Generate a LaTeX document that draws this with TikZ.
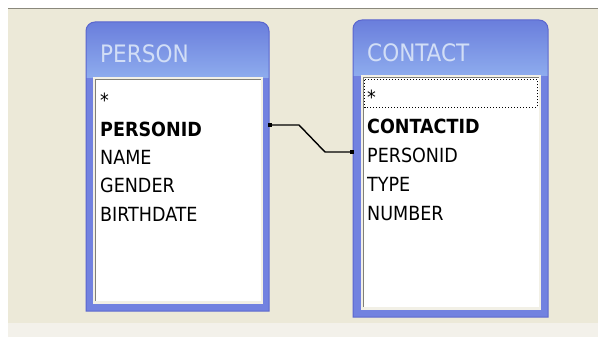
\documentclass[tikz,border=0pt]{standalone}
\usepackage{fontspec}
\setmainfont{DejaVu Sans Condensed}
\definecolor{bg}{HTML}{ECE9D8}
\definecolor{bgl}{HTML}{F3F1EA}
\definecolor{topline}{HTML}{8A887C}
\definecolor{frame}{HTML}{7282E0}
\definecolor{framedark}{HTML}{5A66CE}
\definecolor{titletop}{HTML}{6A7EDC}
\definecolor{titlebot}{HTML}{8EACEE}
\definecolor{titletext}{HTML}{D2DEF6}
\definecolor{sunk}{HTML}{808078}
\definecolor{lite}{HTML}{F2F0E6}
\tikzset{
  tabtitle/.style={anchor=base west, inner sep=0pt, text=titletext, font=\fontsize{24}{28}\selectfont},
  field/.style={anchor=base west, inner sep=0pt, text=black, font=\fontsize{19.5}{23}\selectfont},
  keyfield/.style={field, font=\fontsize{19.5}{23}\selectfont\bfseries},
  endsq/.style={fill=black, inner sep=0pt, minimum size=4pt},
  link/.style={draw=black, line width=1.4pt}
}
\begin{document}
\begin{tikzpicture}[x=1pt,y=-1pt]
\useasboundingbox (0,0) rectangle (598,337);
% background
\fill[white] (0,0) rectangle (598,337);
\fill[bg] (8,8) rectangle (598,323);
\fill[bgl] (8,323) rectangle (598,337);
\draw[topline, line width=1.5pt] (8,8.5) -- (598,8.5);
% PERSON table frame
\begin{scope}
\path[clip] (86,311) [rounded corners=9pt] -- (86,22) -- (269,22) [sharp corners] -- (269,311) -- cycle;
\fill[frame] (86,22) rectangle (269,311);
\shade[top color=titletop, bottom color=titlebot] (86,22) rectangle (269,78);
\end{scope}
\draw[framedark, line width=1pt] (86,311) [rounded corners=9pt] -- (86,22) -- (269,22) [sharp corners] -- (269,311) -- cycle;
\fill[lite] (93,77) rectangle (263,304);
\fill[white] (95,79) rectangle (261,301);
\draw[sunk, line width=1.5pt] (95.5,301) -- (95.5,79.5) -- (261,79.5);
% CONTACT table frame
\begin{scope}
\path[clip] (353,317) [rounded corners=9pt] -- (353,20) -- (548,20) [sharp corners] -- (548,317) -- cycle;
\fill[frame] (353,20) rectangle (548,317);
\shade[top color=titletop, bottom color=titlebot] (353,20) rectangle (548,76);
\end{scope}
\draw[framedark, line width=1pt] (353,317) [rounded corners=9pt] -- (353,20) -- (548,20) [sharp corners] -- (548,317) -- cycle;
\fill[lite] (361,75) rectangle (541,310);
\fill[white] (363,77) rectangle (539,307);
\draw[sunk, line width=1.5pt] (363.5,307) -- (363.5,77.5) -- (539,77.5);
\draw[black, dotted, line width=1pt] (364.5,80) rectangle (537,107.5);
% titles
\node[tabtitle] (tperson) at (100,63) {PERSON};
\node[tabtitle] (tcontact) at (367,62) {CONTACT};
% PERSON fields
\node[field] (pstar) at (100,107) {*};
\node[keyfield] (ppid) at (100,136) {PERSONID};
\node[field] (pname) at (100,164.5) {NAME};
\node[field] (pgender) at (100,193) {GENDER};
\node[field] (pbirth) at (100,221.5) {BIRTHDATE};
% CONTACT fields
\node[field] (cstar) at (367,105) {*};
\node[keyfield] (ccid) at (367,134) {CONTACTID};
\node[field] (cpid) at (367,162.5) {PERSONID};
\node[field] (ctype) at (367,191) {TYPE};
\node[field] (cnum) at (367,220) {NUMBER};
% relationship
\node[endsq] (ea) at (270,125) {};
\node[endsq] (eb) at (352,152) {};
\draw[link] (ea.center) -- (299,125) -- (325,152) -- (eb.center);
\end{tikzpicture}
\end{document}
